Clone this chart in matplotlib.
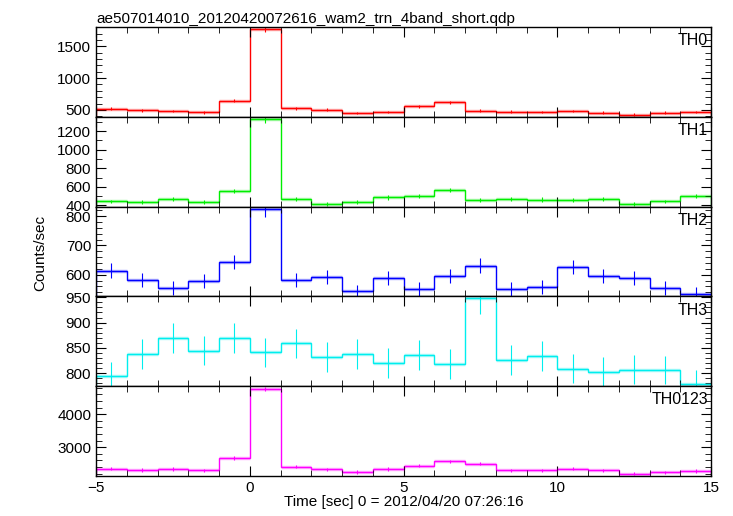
import numpy as np
import matplotlib
matplotlib.use('Agg')
import matplotlib.pyplot as plt
from matplotlib.ticker import MultipleLocator

plt.rcParams['font.family'] = ['Liberation Sans', 'DejaVu Sans']
plt.rcParams['font.size'] = 11

# bin centres (1 s bins, -5 .. 15)
time = [-4.5, -3.5, -2.5, -1.5, -0.5, 0.5, 1.5, 2.5, 3.5, 4.5,
        5.5, 6.5, 7.5, 8.5, 9.5, 10.5, 11.5, 12.5, 13.5, 14.5]

th0 = [521, 495, 484, 463, 642, 1774, 526, 505, 453, 468,
       558, 621, 489, 474, 468, 484, 458, 426, 458, 468]
th0_err = [23, 22, 22, 22, 25, 42, 23, 22, 21, 22,
           24, 25, 22, 22, 22, 22, 21, 21, 21, 22]

th1 = [443, 436, 468, 436, 554, 1325, 468, 414, 439, 486,
       504, 564, 461, 468, 464, 461, 468, 414, 443, 504]
th1_err = [21, 21, 22, 21, 24, 36, 22, 20, 21, 22,
           22, 24, 21, 22, 22, 21, 22, 20, 21, 22]

th2 = [614, 581, 553, 580, 643, 825, 581, 592, 543, 590,
       551, 594, 631, 551, 558, 626, 595, 589, 556, 534]
th2_err = [25, 24, 24, 24, 25, 29, 24, 24, 23, 24,
           23, 24, 25, 23, 24, 25, 24, 24, 24, 23]

th3 = [794, 838, 870, 844, 870, 841, 859, 832, 838, 820,
       836, 818, 948, 826, 834, 809, 803, 807, 806, 778]
th3_err = [28, 29, 30, 29, 30, 29, 29, 29, 29, 29,
           29, 29, 31, 29, 29, 28, 28, 28, 28, 28]

th0123 = [2350, 2310, 2340, 2300, 2680, 4760, 2410, 2330, 2250, 2340,
          2440, 2570, 2500, 2300, 2300, 2350, 2300, 2200, 2240, 2280]
th0123_err = [48, 48, 48, 48, 52, 69, 49, 48, 47, 48,
              49, 51, 50, 48, 48, 48, 48, 47, 47, 48]

names = ['TH0', 'TH1', 'TH2', 'TH3', 'TH0123']
series = [th0, th1, th2, th3, th0123]
errors = [th0_err, th1_err, th2_err, th3_err, th0123_err]
colors = ['#ff0000', '#00ee00', '#0000ff', '#00eeee', '#ff00ff']
ylims = [(394, 1806), (389, 1354), (526, 833), (774, 952), (2130, 4850)]
ymajor = [500, 200, 100, 50, 1000]
yminor = [100, 100, 20, 10, 200]

fig, axes = plt.subplots(5, 1, sharex=True, figsize=(7.33, 5.16), dpi=100)
plt.subplots_adjust(left=0.131, right=0.970, top=0.948, bottom=0.0775,
                    hspace=0)

for ax, name, y, err, c, lim, maj, mnr in zip(axes, names, series, errors,
                                              colors, ylims, ymajor, yminor):
    t = np.array(time)
    yy = np.array(y)
    edges = np.concatenate([t - 0.5, [t[-1] + 0.5]])
    # faint halo under the bins, like the qdp rendering
    ax.errorbar(t, yy, xerr=0.5, fmt='none', ecolor=c, elinewidth=2.5,
                alpha=0.3)
    ax.stairs(yy, edges, color=c, linewidth=1.0)
    ax.errorbar(t, yy, yerr=err, fmt='none', ecolor=c, elinewidth=0.8)
    ax.set_ylim(*lim)
    ax.set_xlim(-5, 15)
    ax.yaxis.set_major_locator(MultipleLocator(maj))
    ax.yaxis.set_minor_locator(MultipleLocator(mnr))
    ax.xaxis.set_major_locator(MultipleLocator(5))
    ax.xaxis.set_minor_locator(MultipleLocator(1))
    ax.tick_params(which='both', direction='in', top=True, right=True,
                   labelsize=11)
    ax.tick_params(which='major', length=7)
    ax.tick_params(which='minor', length=4)
    for s in ax.spines.values():
        s.set_linewidth(1.0)
    ax.text(0.995, 0.93, name, transform=ax.transAxes, ha='right', va='top',
            fontsize=11.5)

axes[0].set_title('ae507014010_20120420072616_wam2_trn_4band_short.qdp',
                  loc='left', fontsize=11, pad=3)
axes[-1].set_xlabel('Time [sec] 0 = 2012/04/20 07:26:16', fontsize=11,
                    labelpad=0)
fig.text(0.055, 0.51, 'Counts/sec', rotation=90, ha='center', va='center',
         fontsize=11)

plt.savefig('out.png', dpi=100)
